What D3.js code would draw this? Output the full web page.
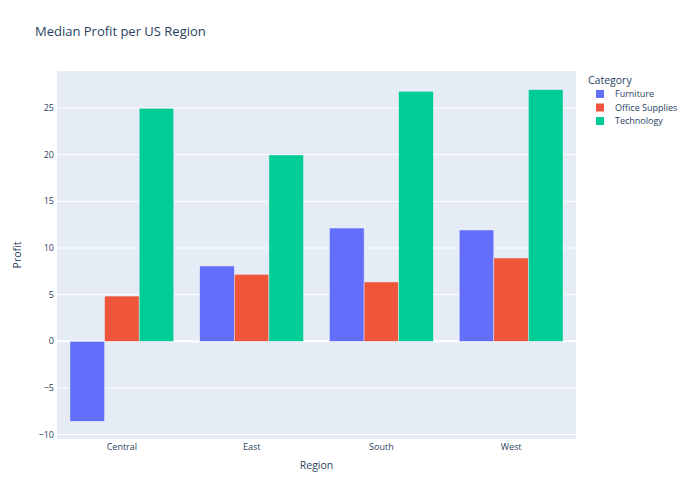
<!DOCTYPE html>
<html><head><meta charset="utf-8">
<script src="https://cdn.jsdelivr.net/npm/d3@7"></script>
<style>body{margin:0;background:#fff}text{font-family:"Open Sans",verdana,arial,sans-serif}</style>
</head><body><svg id="c" width="690" height="497"></svg>
<script>
const regions = ["Central", "East", "South", "West"];
const categories = ["Furniture", "Office Supplies", "Technology"];
const furniture = [-8.57, 8.07, 12.14, 11.93];
const officeSupplies = [4.85, 7.18, 6.36, 8.93];
const technology = [24.97, 19.97, 26.8, 26.97];
const yTicks = [-10, -5, 0, 5, 10, 15, 20, 25];
const colors = ["#636efa", "#EF553B", "#00cc96"];
const series = [furniture, officeSupplies, technology];

const svg = d3.select("#c");
const m = {l: 57, r: 576, t: 71, b: 439};
svg.append("rect").attr("x", m.l).attr("y", m.t).attr("width", m.r - m.l).attr("height", m.b - m.t).attr("fill", "#E5ECF6");

const x = d3.scaleBand().domain(regions).range([m.l, m.r]).paddingInner(0.2).paddingOuter(0.1);
const xs = d3.scaleBand().domain(categories).range([0, x.bandwidth()]);
const y = d3.scaleLinear().domain([-10.47, 28.97]).range([m.b, m.t]);

const g = svg.append("g");
yTicks.forEach(t => {
  g.append("line").attr("x1", m.l).attr("x2", m.r).attr("y1", y(t)).attr("y2", y(t))
    .attr("stroke", "#fff").attr("stroke-width", t === 0 ? 2 : 1);
  g.append("text").attr("x", m.l - 3).attr("y", y(t)).attr("dy", "0.35em").attr("text-anchor", "end")
    .attr("font-size", 9).attr("fill", "#2a3f5f").text(t < 0 ? "\u2212" + Math.abs(t) : t);
});

series.forEach((vals, i) => {
  g.selectAll(null).data(vals).enter().append("rect")
    .attr("x", (d, j) => x(regions[j]) + xs(categories[i]))
    .attr("width", xs.bandwidth())
    .attr("y", d => y(Math.max(0, d)))
    .attr("height", d => Math.abs(y(d) - y(0)))
    .attr("fill", colors[i]).attr("stroke", "#E5ECF6").attr("stroke-width", 0.5);
});
regions.forEach(r => {
  g.append("text").attr("x", x(r) + x.bandwidth() / 2).attr("y", m.b + 8).attr("dy", "0.35em")
    .attr("text-anchor", "middle").attr("font-size", 9).attr("fill", "#2a3f5f").text(r);
});

svg.append("text").attr("x", 35).attr("y", 31).attr("dy", "0.35em").attr("font-size", 13).attr("fill", "#2a3f5f").text("Median Profit per US Region");
svg.append("text").attr("x", (m.l + m.r) / 2).attr("y", 465).attr("dy", "0.35em").attr("text-anchor", "middle").attr("font-size", 10.5).attr("fill", "#2a3f5f").text("Region");
svg.append("text").attr("transform", `translate(17,${(m.t + m.b) / 2}) rotate(-90)`).attr("dy", "0.35em").attr("text-anchor", "middle").attr("font-size", 10.5).attr("fill", "#2a3f5f").text("Profit");

const lg = svg.append("g");
lg.append("text").attr("x", 588).attr("y", 80).attr("dy", "0.35em").attr("font-size", 10.5).attr("fill", "#2a3f5f").text("Category");
categories.forEach((c, i) => {
  const yy = 94 + i * 13.5;
  lg.append("rect").attr("x", 596).attr("y", yy - 4).attr("width", 8).attr("height", 8).attr("fill", colors[i]);
  lg.append("text").attr("x", 615).attr("y", yy).attr("dy", "0.35em").attr("font-size", 9).attr("fill", "#2a3f5f").text(c);
});
</script></body></html>
